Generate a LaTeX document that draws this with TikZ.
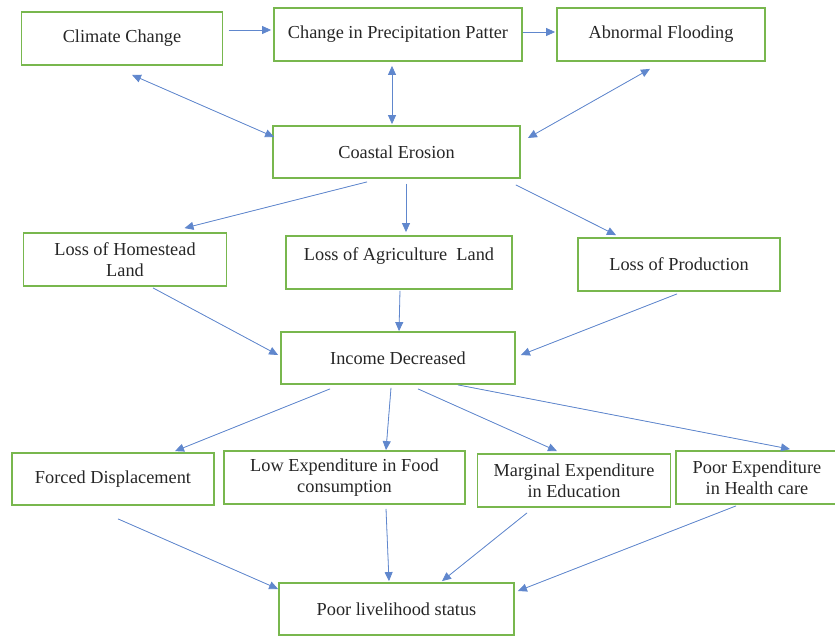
\documentclass[tikz,border=0pt]{standalone}
\usepackage{fontspec}
\setmainfont{Liberation Serif}
\usetikzlibrary{arrows.meta}
\definecolor{boxgreen}{RGB}{120,183,78}
\definecolor{arrowblue}{RGB}{68,114,196}
\begin{document}
\begin{tikzpicture}[x=1pt, y=-1pt,
        box/.style={draw=boxgreen, line width=1.8pt, inner sep=0pt, minimum height=53pt, align=center,
            text=black!85, font=\fontsize{18.3}{21}\selectfont},
        arr/.style={-{Triangle[length=9pt,width=8pt]}, draw=arrowblue!85, fill=arrowblue, line width=0.8pt},
        both/.style={{Triangle[length=9pt,width=8pt]}-{Triangle[length=9pt,width=8pt]}, draw=arrowblue!85, fill=arrowblue, line width=0.8pt}]
    \useasboundingbox (0, 0) rectangle (835, 637);

    \node[box, minimum width=201pt] (climate) at (122, 38.5) {Climate Change};
    \node[box, minimum width=248pt] (precip) at (398, 34.5) {Change in Precipitation Patter};
    \node[box, minimum width=208pt] (flood) at (661, 34.5) {Abnormal Flooding};
    \node[box, minimum width=247pt, minimum height=52pt] (coastal) at (396.5, 152) {Coastal Erosion};

    \node[box, minimum width=203pt] (homestead) at (125, 259.5) {Loss of Homestead\\Land};
    \node[box, minimum width=226pt] (agri) at (399, 262.5) {Loss of Agriculture~ Land\\[-10pt]\strut};
    \node[box, minimum width=202pt] (prod) at (679, 264.5) {Loss of Production};
    \node[box, minimum width=234pt, minimum height=52pt] (income) at (398, 358) {Income Decreased};

    \node[box, minimum width=202pt, minimum height=52pt] (forced) at (113, 479) {Forced Displacement};
    \node[box, minimum width=241pt] (food) at (344.5, 477.5) {Low Expenditure in Food\\consumption};
    \node[box, minimum width=193pt] (marginal) at (574, 480.5) {Marginal Expenditure\\in Education};
    \node[box, minimum width=162pt] (health) at (757, 477.5) {Poor Expenditure\\in Health care};
    \node[box, minimum width=235pt, minimum height=52pt] (poor) at (396.5, 609) {Poor livelihood status};

    \draw[arr] ([xshift=5.5pt, yshift=8.5pt]climate.east) -- ([xshift=-2pt, yshift=4.5pt]precip.west);
    \draw[arr] ([yshift=2.5pt]precip.east) -- ([xshift=-1pt, yshift=2.5pt]flood.west);
    \draw[both] ([xshift=10pt, yshift=-9pt]climate.south) -- ([xshift=2pt, yshift=15pt]coastal.west);
    \draw[both] ([xshift=-6pt, yshift=-4pt]precip.south) -- ([xshift=-4.5pt, yshift=1pt]coastal.north);
    \draw[both] ([xshift=-11pt, yshift=-7pt]flood.south) -- ([xshift=7pt, yshift=14pt]coastal.east);

    \draw[arr] ([xshift=-29.5pt, yshift=-3pt]coastal.south) -- ([xshift=59.5pt, yshift=4pt]homestead.north);
    \draw[arr] ([xshift=9.5pt, yshift=-5pt]coastal.south) -- ([xshift=7pt, yshift=3pt]agri.north);
    \draw[arr] ([xshift=-5pt, yshift=-6pt]coastal.south east) -- ([xshift=-63pt, yshift=2pt]prod.north);

    \draw[arr] ([xshift=28pt, yshift=-1pt]homestead.south) -- ([xshift=-2pt, yshift=3pt]income.west);
    \draw[arr] ([xshift=1pt, yshift=-1pt]agri.south) -- ([xshift=1pt]income.north);
    \draw[arr] ([xshift=-2pt, yshift=-2pt]prod.south) -- ([xshift=5pt, yshift=3pt]income.east);

    \draw[arr] ([xshift=-68pt, yshift=-4pt]income.south) -- ([xshift=62pt, yshift=1pt]forced.north);
    \draw[arr] ([xshift=-7pt, yshift=-3pt]income.south) -- ([xshift=41.5pt]food.north);
    \draw[arr] ([xshift=20pt, yshift=-4pt]income.south) -- ([xshift=-17pt, yshift=2pt]marginal.north);
    \draw[arr] ([xshift=60pt]income.south) -- ([xshift=33pt, yshift=1pt]health.north);

    \draw[arr] ([xshift=5pt, yshift=-13pt]forced.south) -- ([yshift=20pt]poor.west);
    \draw[arr] ([xshift=41.5pt, yshift=-4pt]food.south) -- ([xshift=-7.5pt, yshift=1pt]poor.north);
    \draw[arr] ([xshift=-47pt, yshift=-5pt]marginal.south) -- ([xshift=45.5pt, yshift=1pt]poor.north);
    \draw[arr] ([xshift=-21pt, yshift=-1pt]health.south) -- ([xshift=3pt, yshift=18pt]poor.east);
\end{tikzpicture}
\end{document}
